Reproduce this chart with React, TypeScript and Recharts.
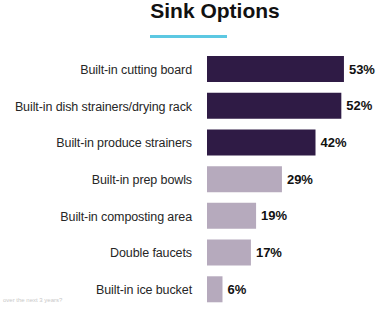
import { BarChart, Bar, XAxis, YAxis, Cell, LabelList } from "recharts";

const categories = [
  "Built-in cutting board",
  "Built-in dish strainers/drying rack",
  "Built-in produce strainers",
  "Built-in prep bowls",
  "Built-in composting area",
  "Double faucets",
  "Built-in ice bucket",
];
const shares = [53, 52, 42, 29, 19, 17, 6];
// top three are highlighted in dark purple
const highlighted = [true, true, true, false, false, false, false];

const DARK = "#2f1b45";
const LIGHT = "#b6aabd";

const data = categories.map((name, i) => ({ name, value: shares[i] }));

// single-line tick so long names don't get wrapped
const CategoryTick = ({ x, y, payload }: any) => (
  <text
    x={x}
    y={y}
    dy={4.5}
    textAnchor="end"
    fontSize={12.5}
    letterSpacing={-0.1}
    fill="#262626"
  >
    {payload.value}
  </text>
);

export default function App() {
  return (
    <div
      style={{
        position: "absolute",
        top: 0,
        left: 0,
        width: 377,
        height: 312,
        background: "#fff",
        fontFamily: "'Liberation Sans', Arial, sans-serif",
      }}
    >
      {/* Title + accent underline */}
      <div
        style={{
          position: "absolute",
          top: 0,
          left: 215,
          transform: "translateX(-50%)",
          fontSize: 21,
          fontWeight: 700,
          lineHeight: "22px",
          color: "#111",
          whiteSpace: "nowrap",
        }}
      >
        Sink Options
      </div>
      <div
        style={{
          position: "absolute",
          top: 35,
          left: 150,
          width: 77,
          height: 3,
          background: "#5cc8e2",
        }}
      />

      <BarChart
        width={377}
        height={312}
        data={data}
        layout="vertical"
        margin={{ top: 51, right: 15, bottom: 4, left: 0 }}
        barSize={26}
      >
        <XAxis type="number" domain={[0, 60]} hide />
        <YAxis
          type="category"
          dataKey="name"
          width={207}
          axisLine={false}
          tickLine={false}
          tickMargin={9}
          interval={0}
          tick={<CategoryTick />}
        />
        <Bar dataKey="value" isAnimationActive={false}>
          {data.map((d, i) => (
            <Cell key={d.name} fill={highlighted[i] ? DARK : LIGHT} />
          ))}
          <LabelList
            dataKey="value"
            position="right"
            offset={5}
            formatter={(v: any) => `${v}%`}
            style={{ fontSize: 13, fontWeight: 700, fill: "#111" }}
          />
        </Bar>
      </BarChart>

      <div
        style={{
          position: "absolute",
          top: 297,
          left: 3,
          fontSize: 6,
          color: "#c8c8c8",
          whiteSpace: "nowrap",
        }}
      >
        over the next 3 years?
      </div>
    </div>
  );
}
